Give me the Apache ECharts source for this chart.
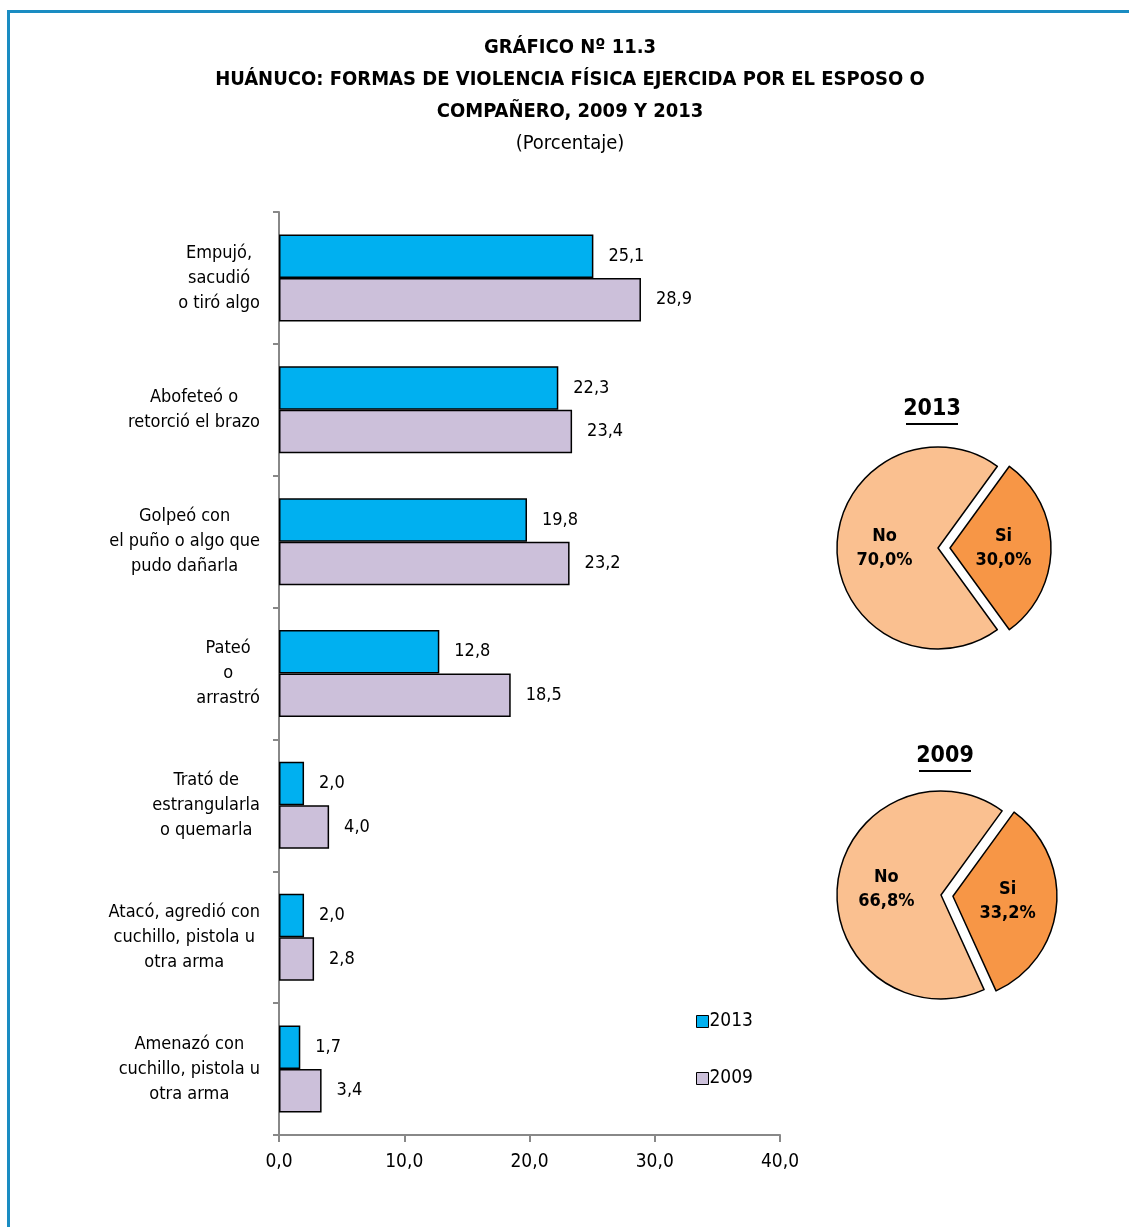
<!DOCTYPE html>
<html>
<head>
<meta charset="utf-8">
<script src="https://cdn.jsdelivr.net/npm/echarts@6/dist/echarts.min.js"></script>
<style>
  html, body { margin: 0; padding: 0; background: #fff; }
  #frame { position: absolute; left: 7px; top: 10px; width: 1130px; height: 1230px;
           border-top: 3px solid #1a8cc2; border-left: 3px solid #1a8cc2; }
  #chart { position: absolute; left: 0; top: 0; width: 1129px; height: 1227px; }
</style>
</head>
<body>
<div id="frame"></div>
<div id="chart"></div>
<script>
const FONT = "'Liberation Sans Narrow', 'Arial Narrow', 'DejaVu Sans Condensed', sans-serif";

const categories = [
  'Empujó,\nsacudió\no tiró algo',
  'Abofeteó o\nretorció el brazo',
  'Golpeó con\nel puño o algo que\npudo dañarla',
  'Pateó\no\narrastró',
  'Trató de\nestrangularla\no quemarla',
  'Atacó, agredió con\ncuchillo, pistola u\notra arma',
  'Amenazó con\ncuchillo, pistola u\notra arma'
];
const values2013 = [25.1, 22.3, 19.8, 12.8, 2.0, 2.0, 1.7];
const values2009 = [28.9, 23.4, 23.2, 18.5, 4.0, 2.8, 3.4];
const xTicks = [0, 10, 20, 30, 40];

const pieNames = ['Si', 'No'];
const pie2013 = [30.0, 70.0];
const pie2009 = [33.2, 66.8];

const fmt = v => v.toFixed(1).replace('.', ',');

function pieSeries(data, center, radius) {
  return {
    type: 'pie',
    center: center,
    radius: radius,
    startAngle: 54,
    clockwise: true,
    selectedMode: 'multiple',
    selectedOffset: 12,
    animation: false,
    label: {
      position: 'inside',
      formatter: p => p.name + '\n' + fmt(p.value) + '%',
      fontFamily: FONT,
      fontWeight: 'bold',
      fontSize: 18,
      lineHeight: 24,
      color: '#000'
    },
    labelLine: {show: false},
    itemStyle: {borderColor: '#000', borderWidth: 1.5},
    data: data.map((v, i) => ({
      name: pieNames[i],
      value: v,
      selected: pieNames[i] === 'Si',
      itemStyle: {color: pieNames[i] === 'Si' ? '#f79646' : '#fac090'}
    }))
  };
}

const chart = echarts.init(document.getElementById('chart'));
chart.setOption({
  animation: false,
  textStyle: {fontFamily: FONT, color: '#000'},
  title: {
    text: 'GRÁFICO Nº 11.3\nHUÁNUCO: FORMAS DE VIOLENCIA FÍSICA EJERCIDA POR EL ESPOSO O\nCOMPAÑERO, 2009 Y 2013',
    subtext: '(Porcentaje)',
    left: 565,
    top: 27,
    textAlign: 'center',
    itemGap: 6,
    textStyle: {fontFamily: FONT, fontWeight: 'bold', fontSize: 20, lineHeight: 32, color: '#000'},
    subtextStyle: {fontFamily: FONT, fontSize: 20, color: '#000'}
  },
  legend: {
    orient: 'vertical',
    left: 691,
    top: 1007,
    itemGap: 38,
    itemWidth: 12,
    itemHeight: 12,
    icon: 'rect',
    textStyle: {fontFamily: FONT, fontSize: 19, color: '#000', padding: [0, 0, 0, -4]},
    data: [
      {name: '2013', itemStyle: {borderColor: '#000', borderWidth: 1}},
      {name: '2009', itemStyle: {borderColor: '#000', borderWidth: 1}}
    ]
  },
  grid: {left: 279, right: 349, top: 212, bottom: 92, containLabel: false},
  xAxis: {
    type: 'value',
    min: xTicks[0],
    max: xTicks[xTicks.length - 1],
    interval: 10,
    splitLine: {show: false},
    axisLine: {show: true, lineStyle: {color: '#888', width: 2}},
    axisTick: {show: true, length: 7, lineStyle: {color: '#888', width: 2}},
    axisLabel: {formatter: v => fmt(v), fontFamily: FONT, fontSize: 19, color: '#000', margin: 18}
  },
  yAxis: {
    type: 'category',
    inverse: true,
    data: categories,
    axisLine: {show: true, lineStyle: {color: '#888', width: 2}},
    axisTick: {show: true, length: 6, lineStyle: {color: '#888', width: 2}},
    axisLabel: {
      fontFamily: FONT,
      fontSize: 18,
      color: '#000',
      margin: 19,
      align: 'right',
      formatter: v => '{c|' + v + '}',
      rich: {c: {align: 'center', fontFamily: FONT, fontSize: 18, lineHeight: 25, color: '#000'}}
    }
  },
  series: [
    {
      name: '2013',
      type: 'bar',
      data: values2013,
      barGap: '0%',
      barCategoryGap: '34%',
      itemStyle: {color: '#00b0f0', borderColor: '#000', borderWidth: 1.5},
      label: {show: true, position: 'right', distance: 15, formatter: p => fmt(p.value),
              fontFamily: FONT, fontSize: 18, color: '#000'}
    },
    {
      name: '2009',
      type: 'bar',
      data: values2009,
      barGap: '0%',
      barCategoryGap: '34%',
      itemStyle: {color: '#ccc0da', borderColor: '#000', borderWidth: 1.5},
      label: {show: true, position: 'right', distance: 15, formatter: p => fmt(p.value),
              fontFamily: FONT, fontSize: 18, color: '#000'}
    },
    pieSeries(pie2013, [938, 548], 101),
    pieSeries(pie2009, [941, 895], 104)
  ],
  graphic: [
    {type: 'text', x: 932, y: 409, style: {text: '2013', font: 'bold 23px ' + FONT, fill: '#000', align: 'center', verticalAlign: 'middle'}},
    {type: 'rect', shape: {x: 906, y: 423, width: 52, height: 2}, style: {fill: '#000'}},
    {type: 'text', x: 945, y: 756, style: {text: '2009', font: 'bold 23px ' + FONT, fill: '#000', align: 'center', verticalAlign: 'middle'}},
    {type: 'rect', shape: {x: 919, y: 770, width: 52, height: 2}, style: {fill: '#000'}}
  ]
});
</script>
</body>
</html>
